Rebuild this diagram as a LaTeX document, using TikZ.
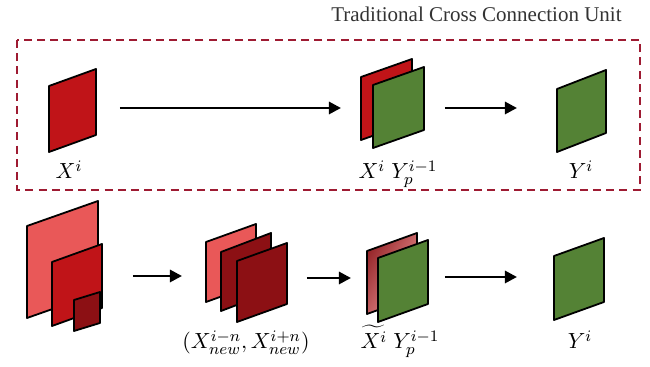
\documentclass[tikz,border=0pt]{standalone}
\usepackage{fontspec}
\setmainfont{Liberation Serif}
\usepackage{amsmath}
\usetikzlibrary{arrows.meta}
\definecolor{redmid}{RGB}{192,20,24}
\definecolor{redlight}{RGB}{233,88,88}
\definecolor{reddark}{RGB}{140,16,20}
\definecolor{greensheet}{RGB}{84,130,53}
\definecolor{boxred}{RGB}{158,27,50}
\tikzset{
  sheet/.style={draw=black,line width=0.9pt,line join=round},
  flow/.style={-{Triangle[length=6pt,width=6pt]},line width=1.4pt},
  unitbox/.style={draw=boxred,line width=0.9pt,dash pattern=on 4pt off 2.6pt},
  lbl/.style={anchor=base,inner sep=0pt,font=\fontsize{11}{13}\selectfont}
}
% sheet: bottom-left x, y, width, height, skew, fill options
\newcommand{\sheet}[6]{%
  \draw[sheet,#6] (#1,#2) -- (#1,#2-#4) -- (#1+#3,#2-#4-#5) -- (#1+#3,#2-#5) -- cycle;}

\begin{document}
\begin{tikzpicture}[x=0.5pt,y=-0.5pt]
\useasboundingbox (0,0) rectangle (650,367);

% Title and dashed frame
\node[anchor=base east,inner sep=0pt,text=black!80,font=\fontsize{10.5}{12}\selectfont] (title) at (622,22) {Traditional Cross Connection Unit};
\draw[unitbox] (17,40) rectangle (640,190);

% Traditional unit (top row)
\sheet{49}{152}{47}{66}{17}{fill=redmid}
\sheet{361}{140}{51}{63}{18}{fill=redmid}
\sheet{373}{148}{51}{63}{18}{fill=greensheet}
\sheet{557}{152}{49}{63}{19}{fill=greensheet}

\node[lbl] (xi) at (69,179) {$X^{i}$};
\node[lbl] (xiyp) at (398,179) {$X^{i}\;Y_{p}^{i-1}$};
\node[lbl] (yi) at (581,179) {$Y^{i}$};

\coordinate (a1s) at (120,108);
\coordinate (a1e) at (341,108);
\coordinate (a2s) at (445,108);
\coordinate (a2e) at (517,108);
\draw[flow] (a1s) -- (a1e);
\draw[flow] (a2s) -- (a2e);

% Proposed unit (bottom row)
\sheet{27}{318}{71}{92}{25}{fill=redlight}
\sheet{52}{326}{50}{64}{18}{fill=redmid}
\sheet{74}{331}{26}{31}{8}{fill=reddark}

\sheet{206}{302}{50}{60}{18}{fill=redlight}
\sheet{221}{311}{50}{59}{19}{fill=reddark}
\sheet{237}{322}{50}{61}{18}{fill=reddark}

\sheet{367}{314}{50}{63}{18}{left color=reddark!90,right color=redlight!60,shading angle=60}
\sheet{378}{322}{50}{64}{18}{fill=greensheet}

\sheet{554}{320}{50}{64}{18}{fill=greensheet}

\node[lbl] (xnew) at (246,349) {$(X_{new}^{i-n},X_{new}^{i+n})$};
\node[lbl] (xtyp) at (400,349) {$\widetilde{X^{i}}\;Y_{p}^{i-1}$};
\node[lbl] (yib) at (580,349) {$Y^{i}$};

\coordinate (a3s) at (133,276);
\coordinate (a3e) at (182,276);
\coordinate (a4s) at (307,278);
\coordinate (a4e) at (351,278);
\coordinate (a5s) at (445,277);
\coordinate (a5e) at (517,277);
\draw[flow] (a3s) -- (a3e);
\draw[flow] (a4s) -- (a4e);
\draw[flow] (a5s) -- (a5e);

\end{tikzpicture}
\end{document}
